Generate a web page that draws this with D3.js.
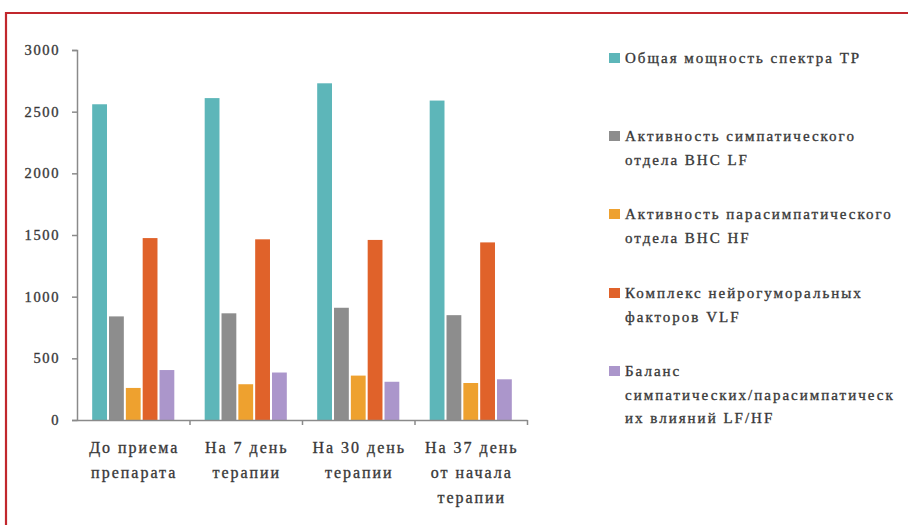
<!DOCTYPE html>
<html>
<head>
<meta charset="utf-8">
<script src="https://cdn.jsdelivr.net/npm/d3@7"></script>
<style>
  html, body { margin: 0; padding: 0; background: #fff; }
  svg { display: block; }
  text { font-family: "Liberation Serif", "DejaVu Serif", serif; fill: #333; stroke: #444; stroke-width: 0.35px; }
</style>
</head>
<body>
<svg id="chart" width="908" height="525"></svg>
<script>
// Time points of the observation
const categories = [
  ["До приема", "препарата"],
  ["На 7 день", "терапии"],
  ["На 30 день", "терапии"],
  ["На 37 день", "от начала", "терапии"]
];

// Legend names, split into the lines they are printed on
const seriesNames = [
  ["Общая мощность спектра ТР"],
  ["Активность симпатического", "отдела ВНС LF"],
  ["Активность парасимпатического", "отдела ВНС HF"],
  ["Комплекс нейрогуморальных", "факторов VLF"],
  ["Баланс", "симпатических/парасимпатическ", "их влияний LF/HF"]
];

// Values for each series, one per time point
const totalPower   = [2560, 2610, 2730, 2590];
const sympathetic  = [840, 865, 910, 850];
const parasympath  = [260, 290, 360, 300];
const neurohumoral = [1475, 1465, 1460, 1440];
const balance      = [405, 385, 310, 330];

const yTicks = [0, 500, 1000, 1500, 2000, 2500, 3000];

const seriesValues = [totalPower, sympathetic, parasympath, neurohumoral, balance];
const colors = ["#5db6b9", "#8d8d8d", "#eea12f", "#e0622a", "#ab96cb"];

const svg = d3.select("#chart");

// Frame
svg.append("path")
  .attr("d", "M6,540 L6,13 L920,13")
  .attr("fill", "none")
  .attr("stroke", "#c1272d")
  .attr("stroke-width", 2.2);

const plot = { left: 77, right: 527, top: 50, bottom: 420 };

const x0 = d3.scaleBand()
  .domain(d3.range(categories.length))
  .range([plot.left, plot.right])
  .paddingInner(0.27)
  .paddingOuter(0.135);

const x1 = d3.scaleBand()
  .domain(d3.range(seriesValues.length))
  .range([0, x0.bandwidth()])
  .paddingInner(0.12);

const y = d3.scaleLinear().domain([0, 3000]).range([plot.bottom, plot.top]);

// Bars
const groups = svg.append("g").selectAll("g")
  .data(categories.map((c, i) => i))
  .join("g")
  .attr("transform", i => `translate(${x0(i)},0)`);

groups.selectAll("rect")
  .data(i => seriesValues.map((vals, s) => ({ s, v: vals[i] })))
  .join("rect")
  .attr("x", d => x1(d.s))
  .attr("width", x1.bandwidth())
  .attr("y", d => y(d.v))
  .attr("height", d => y(0) - y(d.v))
  .attr("fill", d => colors[d.s]);

// Y axis
const yAxis = svg.append("g")
  .attr("transform", `translate(${plot.left},0)`)
  .call(d3.axisLeft(y).tickValues(yTicks).tickSize(5).tickPadding(12).tickFormat(d3.format("d")));
yAxis.select(".domain").attr("stroke", "#8a8a8a").attr("stroke-width", 1.5);
yAxis.selectAll(".tick line").attr("stroke", "#8a8a8a").attr("stroke-width", 1.5);
yAxis.selectAll(".tick text")
  .attr("font-size", 14.5)
  .attr("letter-spacing", "1.6px")
  .style("font-family", "'Liberation Serif', serif")
  .attr("fill", "#333");

// X axis with boundary ticks between time points
const xLin = d3.scaleLinear().domain([0, categories.length]).range([plot.left, plot.right]);
const xAxis = svg.append("g")
  .attr("transform", `translate(0,${plot.bottom})`)
  .call(d3.axisBottom(xLin).tickValues(d3.range(1, categories.length + 1)).tickSize(5).tickSizeOuter(0).tickFormat(""));
xAxis.select(".domain").attr("stroke", "#8a8a8a").attr("stroke-width", 1.5);
xAxis.selectAll(".tick line").attr("stroke", "#8a8a8a").attr("stroke-width", 1.5);

// Category labels
const catLabels = svg.append("g").selectAll("text")
  .data(categories)
  .join("text")
  .attr("text-anchor", "middle")
  .attr("font-size", 16)
  .attr("letter-spacing", "2px")
  .attr("transform", (d, i) => `translate(${x0(i) + x0.bandwidth() / 2 + 1},453)`);
catLabels.selectAll("tspan")
  .data(d => d)
  .join("tspan")
  .attr("x", 0)
  .attr("dy", (d, i) => i === 0 ? 0 : 25)
  .text(d => d);

// Legend
const legendY = [63, 141, 219, 298, 376];
const legend = svg.append("g").selectAll("g")
  .data(seriesNames)
  .join("g")
  .attr("transform", (d, i) => `translate(609,${legendY[i]})`);
legend.append("rect")
  .attr("x", 0)
  .attr("y", -10)
  .attr("width", 11)
  .attr("height", 10)
  .attr("fill", (d, i) => colors[i]);
const legendText = legend.append("text")
  .attr("x", 16)
  .attr("y", 0)
  .attr("font-size", 15)
  .attr("letter-spacing", "2px");
legendText.selectAll("tspan")
  .data(d => d)
  .join("tspan")
  .attr("x", 16)
  .attr("dy", (d, i) => i === 0 ? 0 : 23.5)
  .text(d => d);
</script>
</body>
</html>
